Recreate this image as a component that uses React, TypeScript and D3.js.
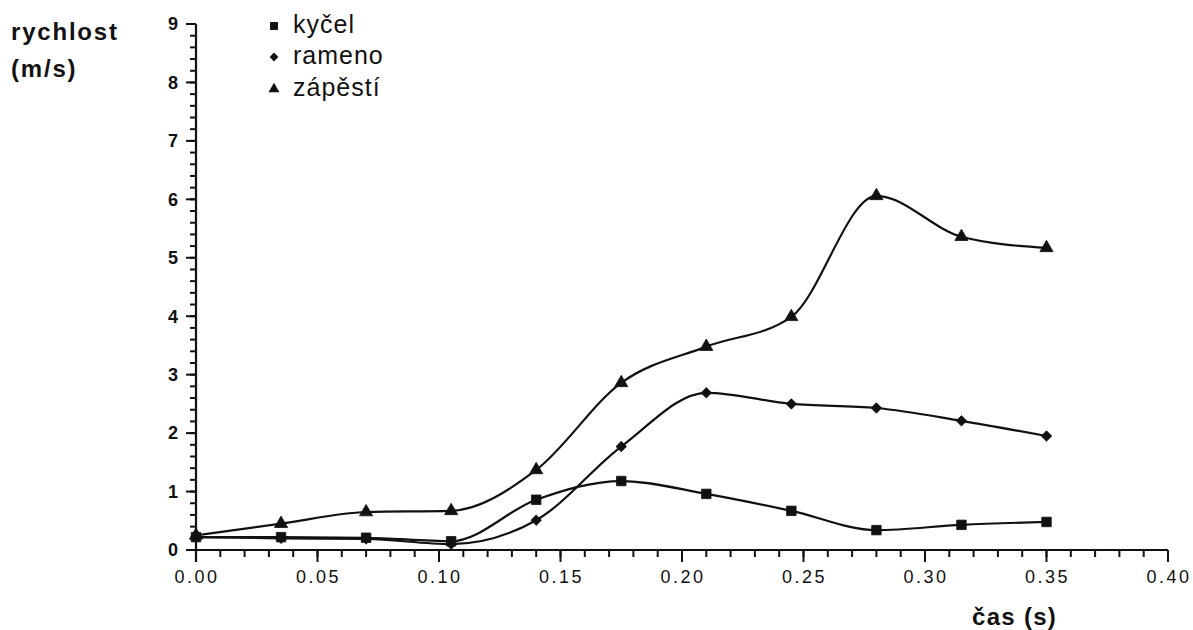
import * as d3 from "d3";

const times = [0, 0.035, 0.07, 0.105, 0.14, 0.175, 0.21, 0.245, 0.28, 0.315, 0.35];
const kycel = [0.22, 0.22, 0.21, 0.15, 0.86, 1.18, 0.96, 0.67, 0.34, 0.43, 0.48];
const rameno = [0.22, 0.2, 0.19, 0.1, 0.51, 1.77, 2.69, 2.5, 2.43, 2.21, 1.95];
const zapesti = [0.25, 0.45, 0.65, 0.67, 1.37, 2.86, 3.48, 3.99, 6.06, 5.36, 5.17];
const seriesNames = ["kyčel", "rameno", "zápěstí"];
const xTicks = [0, 0.05, 0.1, 0.15, 0.2, 0.25, 0.3, 0.35, 0.4];
const yTicks = [0, 1, 2, 3, 4, 5, 6, 7, 8, 9];

const W = 1193;
const H = 630;
const x = d3.scaleLinear().domain([0, 0.4]).range([196, 1168]);
const y = d3.scaleLinear().domain([0, 9]).range([550, 24]);
const font = "'Liberation Sans', Arial, sans-serif";
const ink = "#111";

const series = [
  { name: seriesNames[0], values: kycel, shape: d3.symbolSquare, size: 90 },
  { name: seriesNames[1], values: rameno, shape: d3.symbolDiamond2, size: 70 },
  { name: seriesNames[2], values: zapesti, shape: d3.symbolTriangle, size: 75 },
];

// minor ticks: 0.2 on y, 0.01 on x
const yMinor = d3.range(0, 45).map((i) => i / 5);
const xMinor = d3.range(0, 41).map((i) => i / 100);

export default function App() {
  const line = d3
    .line<number>()
    .x((_, i) => x(times[i]))
    .y((d) => y(d))
    .curve(d3.curveMonotoneX);

  const x0 = x(0);
  const y0 = y(0);

  return (
    <svg width={W} height={H} style={{ position: "absolute", left: 0, top: 0, background: "#fff" }}>
      <rect width={W} height={H} fill="#fff" />

      {/* y axis */}
      <g stroke={ink} strokeWidth={2}>
        <line x1={x0} x2={x0} y1={y(9)} y2={y0 + 12} strokeWidth={2.2} />
        {yMinor.map((v) => (
          <line key={"ym" + v} x1={x0 - 6} x2={x0} y1={y(v)} y2={y(v)} />
        ))}
        {yTicks.map((v) => (
          <line key={"yt" + v} x1={x0 - 10} x2={x0} y1={y(v)} y2={y(v)} />
        ))}
      </g>
      <g fontFamily={font} fontSize={18} fontWeight="bold" fill={ink} textAnchor="end">
        {yTicks.map((v) => (
          <text key={v} x={x0 - 18} y={y(v)} dy="0.35em">{v}</text>
        ))}
      </g>

      {/* x axis */}
      <g stroke={ink} strokeWidth={2}>
        <line x1={x0 - 10} x2={x(0.4)} y1={y0} y2={y0} strokeWidth={2.2} />
        {xMinor.map((v) => (
          <line key={"xm" + v} x1={x(v)} x2={x(v)} y1={y0} y2={y0 + 7} />
        ))}
        {xTicks.map((v) => (
          <line key={"xt" + v} x1={x(v)} x2={x(v)} y1={y0} y2={y0 + 12} />
        ))}
      </g>
      <g fontFamily={font} fontSize={18} fill={ink} textAnchor="middle" letterSpacing={2.5}>
        {xTicks.map((v) => (
          <text key={v} x={x(v) + 1} y={583}>{d3.format(".2f")(v)}</text>
        ))}
      </g>

      {/* series */}
      {series.map((s) => (
        <g key={s.name}>
          <path d={line(s.values) ?? ""} fill="none" stroke={ink} strokeWidth={2.2} />
          {s.values.map((v, i) => (
            <path
              key={i}
              d={d3.symbol().type(s.shape).size(s.size)() ?? ""}
              transform={`translate(${x(times[i])},${y(v)})`}
              fill={ink}
              stroke={ink}
              strokeWidth={0.8}
            />
          ))}
        </g>
      ))}

      {/* titles */}
      <g fontFamily={font} fill={ink} fontWeight="bold">
        <text x={11} y={40} fontSize={24} letterSpacing={1.8}>rychlost</text>
        <text x={11} y={77} fontSize={24} letterSpacing={1.8}>(m/s)</text>
        <text x={972} y={625} fontSize={24} letterSpacing={1.3}>čas (s)</text>
      </g>

      {/* legend */}
      {series.map((s, i) => (
        <g key={s.name} transform={`translate(274,${[26, 57, 89][i]})`}>
          <path d={d3.symbol().type(s.shape).size(s.size * 0.7)() ?? ""} fill={ink} />
          <text x={19} y={7} fontFamily={font} fontSize={25} letterSpacing={1} fill={ink}>{s.name}</text>
        </g>
      ))}
    </svg>
  );
}
